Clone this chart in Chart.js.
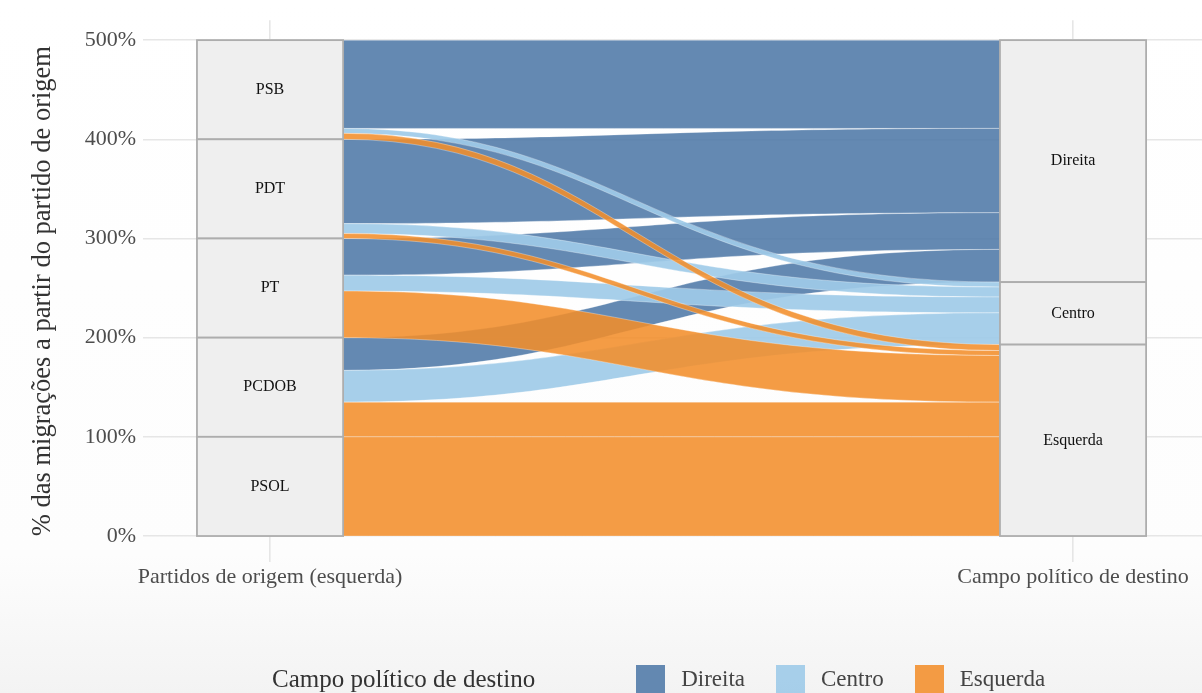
<!DOCTYPE html>
<html>
<head>
<meta charset="utf-8">
<script src="https://cdn.jsdelivr.net/npm/chart.js@4"></script>
<style>
  html, body { margin: 0; padding: 0; }
  body {
    width: 1202px; height: 693px; overflow: hidden; position: relative;
    background: linear-gradient(to bottom, #ffffff 0%, #fdfdfd 80%, #f3f3f3 100%);
    font-family: "Liberation Serif", "DejaVu Serif", serif;
  }
  #wrap { position: absolute; left: 0; top: 0; width: 1202px; height: 693px; }
  #legend { position: absolute; left: 272px; top: 664px; height: 30px; display: flex; align-items: center; color: #333; font-size: 25px; }
  #legend .title { margin-right: 101px; }
  #legend .item { display: flex; align-items: center; margin-right: 31px; color: #444; font-size: 23px; }
  #legend .sw { width: 29px; height: 29px; margin-right: 16px; }
</style>
</head>
<body>
<div id="wrap"><canvas id="alluvial"></canvas></div>
<div id="legend"></div>
<script>
    // partidos de origem (de cima para baixo) e campos de destino
    const partidos = ["PSB", "PDT", "PT", "PCDOB", "PSOL"];
    const campos = ["Direita", "Centro", "Esquerda"];

    // % das migrações de cada partido para cada campo
    const direita = [89, 85, 37, 33, 0];
    const centro = [5, 10, 16, 32, 0];
    const esquerda = [6, 5, 47, 35, 100];

    const eixoX = ["Partidos de origem (esquerda)", "Campo político de destino"];
    const ticksY = [0, 100, 200, 300, 400, 500];

    const cores = ["rgba(78, 121, 167, 0.88)", "rgba(160, 203, 232, 0.92)", "rgba(242, 142, 43, 0.88)"];
    const valores = [direita, centro, esquerda];

    const meiaLargura = 0.091;

    const alluvialPlugin = {
        id: "alluvial",
    beforeDatasetsDraw(chart) {
        const ctx = chart.ctx;
    const x = chart.scales.x, y = chart.scales.y;
    const total = ticksY[ticksY.length - 1];

    // posições do lado esquerdo (origem)
    const esq = [];
    let topo = total;
    partidos.forEach((p, i) => {
        esq[i] = [];
    campos.forEach((c, d) => {
        esq[i][d] = [topo, topo - valores[d][i]];
    topo -= valores[d][i];
            });
        });
    // posições do lado direito (destino)
    const dir = [];
    partidos.forEach((p, i) => { dir[i] = []; });
    topo = total;
    campos.forEach((c, d) => {
        partidos.forEach((p, i) => {
            dir[i][d] = [topo, topo - valores[d][i]];
    topo -= valores[d][i];
            });
        });

    const xL = x.getPixelForValue(1 + meiaLargura);
    const xR = x.getPixelForValue(2 - meiaLargura);
    const k1 = (xR - xL) * 0.42, k2 = (xR - xL) * 0.52;

    ctx.save();
    // fluxos: direita primeiro, esquerda por cima
    campos.forEach((c, d) => {
        partidos.forEach((p, i) => {
            if (!valores[d][i]) return;
    const lt = y.getPixelForValue(esq[i][d][0]), lb = y.getPixelForValue(esq[i][d][1]);
    const rt = y.getPixelForValue(dir[i][d][0]), rb = y.getPixelForValue(dir[i][d][1]);
    ctx.beginPath();
    ctx.moveTo(xL, lt);
    ctx.bezierCurveTo(xL + k1, lt, xR - k2, rt, xR, rt);
    ctx.lineTo(xR, rb);
    ctx.bezierCurveTo(xR - k2, rb, xL + k1, lb, xL, lb);
    ctx.closePath();
    ctx.fillStyle = cores[d];
    ctx.fill();
    ctx.strokeStyle = "rgba(255, 255, 255, 0.45)";
    ctx.lineWidth = 0.7;
    ctx.stroke();
            });
        });

    // estratos
    const caixa = (centroX, topoV, baseV, texto) => {
        const a = x.getPixelForValue(centroX - meiaLargura), b = x.getPixelForValue(centroX + meiaLargura);
    const t = y.getPixelForValue(topoV), u = y.getPixelForValue(baseV);
    ctx.fillStyle = "#efefef";
    ctx.fillRect(a, t, b - a, u - t);
    ctx.strokeStyle = "#adadad";
    ctx.lineWidth = 1.8;
    ctx.strokeRect(a, t, b - a, u - t);
    ctx.fillStyle = "#111";
    ctx.font = "16px 'Liberation Serif'";
    ctx.textAlign = "center";
    ctx.textBaseline = "middle";
    ctx.fillText(texto, (a + b) / 2, (t + u) / 2);
        };
    topo = total;
    partidos.forEach((p, i) => {
        const s = direita[i] + centro[i] + esquerda[i];
    caixa(1, topo, topo - s, p);
    topo -= s;
        });
    topo = total;
    campos.forEach((c, d) => {
        const s = valores[d].reduce((a, b) => a + b, 0);
    caixa(2, topo, topo - s, c);
    topo -= s;
        });
    ctx.restore();
        }
    };

    const alluvialCtx = document.getElementById("alluvial").getContext("2d");
    const alluvialChart = new Chart(alluvialCtx, {
        type: "scatter",
    data: {
        datasets: campos.map((c, d) => ({ label: c, data: [], backgroundColor: cores[d] })),
        },
    plugins: [alluvialPlugin],
    options: {
        responsive: true,
    maintainAspectRatio: false,
    animation: false,
    layout: { padding: { top: 0, right: 0, bottom: 0, left: 0 } },
    plugins: { legend: { display: false }, tooltip: { enabled: false } },
    scales: {
        x: {
            type: "linear",
    min: 0.8418,
    max: 2.1606,
    afterBuildTicks: (s) => { s.ticks = [{ value: 1 }, { value: 2 }]; },
    afterFit: (s) => { s.height = 131; },
    ticks: {
        autoSkip: false, maxRotation: 0, padding: 2,
    color: "#4d4d4d",
    font: { family: "Liberation Serif", size: 22 },
    callback: (v) => eixoX[v - 1],
            },
    grid: { color: "#e6e6e6", lineWidth: 1.6, drawTicks: false },
    border: { display: false },
            },
    y: {
        min: -26.2,
    max: 520.1,
    afterBuildTicks: (s) => { s.ticks = ticksY.map((v) => ({ value: v })); },
    afterFit: (s) => { s.width = 143; },
    ticks: {
        padding: 7,
    color: "#4d4d4d",
    font: { family: "Liberation Serif", size: 22 },
    callback: (v) => v + "%",
            },
    grid: { color: "#e6e6e6", lineWidth: 1.6, drawTicks: false },
    border: { display: false },
    title: {
        display: true,
    text: "% das migrações a partir do partido de origem",
    color: "#333",
    font: { family: "Liberation Serif", size: 26.5 },
    padding: { top: 27, bottom: 0 },
            },
            },
        },
        },
      });

    // legenda em HTML
    const legenda = document.getElementById("legend");
    legenda.innerHTML = '<span class="title">Campo político de destino</span>' +
        campos.map((c, d) => '<span class="item"><span class="sw" style="background:' + cores[d] + '"></span>' + c + '</span>').join("");
</script>
</body>
</html>
